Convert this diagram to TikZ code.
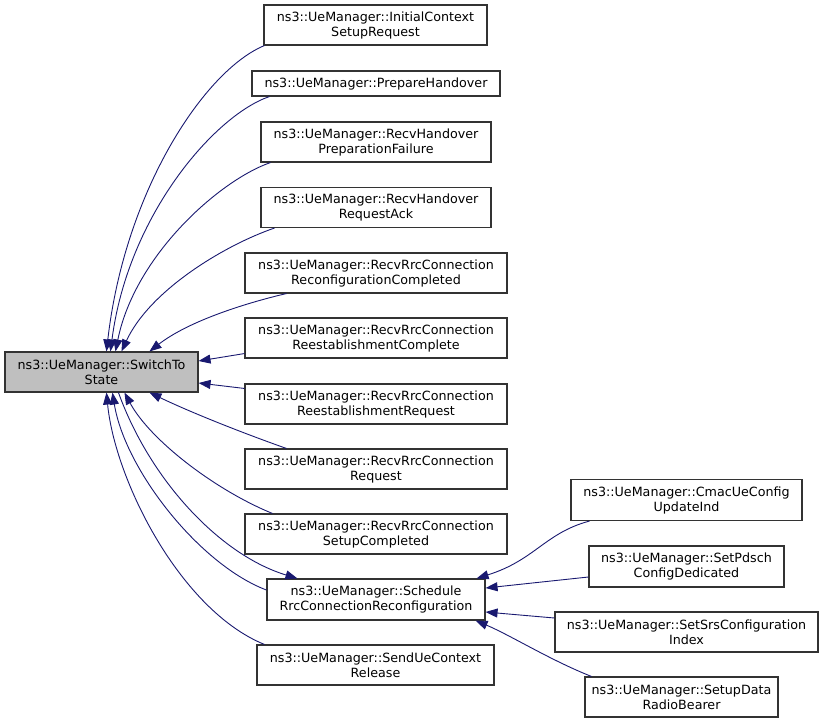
\documentclass[tikz,border=0pt]{standalone}
\usepackage{fontspec}
\setmainfont{DejaVu Sans}
\usetikzlibrary{arrows.meta}
\definecolor{edgeblue}{HTML}{191970}
\definecolor{rootgray}{HTML}{BFBFBF}
\tikzset{
  box/.style={draw=black!80, fill=white, line width=1.1pt, align=center, inner sep=0pt,
    font=\fontsize{12.7}{15}\selectfont},
  rootbox/.style={box, fill=rootgray},
  edge/.style={draw=edgeblue, line width=0.9pt, -{Triangle[length=12pt,width=9pt]}, fill=none}
}
\begin{document}
\begin{tikzpicture}[x=1pt,y=-1pt]
\useasboundingbox (0,0) rectangle (824,723);
% nodes
\node[rootbox, minimum width=193pt, minimum height=40pt] (sw) at (101.5,372) {ns3::UeManager::SwitchTo\\State};
\node[box, minimum width=223pt, minimum height=40pt] (init) at (375.5,25) {ns3::UeManager::InitialContext\\SetupRequest};
\node[box, minimum width=248pt, minimum height=25pt] (prep) at (376,83.5) {ns3::UeManager::PrepareHandover};
\node[box, minimum width=230pt, minimum height=40pt] (fail) at (376,142) {ns3::UeManager::RecvHandover\\PreparationFailure};
\node[box, minimum width=230pt, minimum height=40pt] (ack) at (376,207.5) {ns3::UeManager::RecvHandover\\RequestAck};
\node[box, minimum width=262pt, minimum height=40pt] (reconf) at (376,273) {ns3::UeManager::RecvRrcConnection\\ReconfigurationCompleted};
\node[box, minimum width=262pt, minimum height=40pt] (reestC) at (376,338) {ns3::UeManager::RecvRrcConnection\\ReestablishmentComplete};
\node[box, minimum width=262pt, minimum height=40pt] (reestR) at (376,404) {ns3::UeManager::RecvRrcConnection\\ReestablishmentRequest};
\node[box, minimum width=262pt, minimum height=40pt] (req) at (376,469) {ns3::UeManager::RecvRrcConnection\\Request};
\node[box, minimum width=262pt, minimum height=40pt] (setup) at (376,534) {ns3::UeManager::RecvRrcConnection\\SetupCompleted};
\node[box, minimum width=218pt, minimum height=41pt] (sched) at (376,599.5) {ns3::UeManager::Schedule\\RrcConnectionReconfiguration};
\node[box, minimum width=237pt, minimum height=40pt] (send) at (375.5,665) {ns3::UeManager::SendUeContext\\Release};
\node[box, minimum width=231pt, minimum height=41pt] (cmac) at (686.5,500) {ns3::UeManager::CmacUeConfig\\UpdateInd};
\node[box, minimum width=195pt, minimum height=41pt] (pdsch) at (686.5,566.5) {ns3::UeManager::SetPdsch\\ConfigDedicated};
\node[box, minimum width=263pt, minimum height=40pt] (srs) at (686.5,632) {ns3::UeManager::SetSrsConfiguration\\Index};
\node[box, minimum width=193pt, minimum height=40pt] (data) at (681.5,697) {ns3::UeManager::SetupData\\RadioBearer};
% edges to SwitchTo (top)
\draw[edge] ([xshift=1pt]init.south west) .. controls (205,70) and (125,190) .. ([xshift=102pt]sw.north west);
\draw[edge] ([xshift=18pt]prep.south west) .. controls (215,115) and (128,215) .. ([xshift=106pt]sw.north west);
\draw[edge] ([xshift=10pt]fail.south west) .. controls (220,180) and (135,255) .. ([xshift=111pt]sw.north west);
\draw[edge] ([xshift=14pt]ack.south west) .. controls (225,245) and (150,290) .. ([xshift=117pt]sw.north west);
\draw[edge] ([xshift=42pt]reconf.south west) .. controls (250,302) and (190,320) .. ([xshift=145pt]sw.north west);
% edges to SwitchTo (side)
\draw[edge] ([yshift=5pt]reestC.south west) -- ([yshift=11pt]sw.east);
\draw[edge] ([yshift=-5pt]reestR.north west) -- ([yshift=-11pt]sw.east);
% edges to SwitchTo (bottom)
\draw[edge] ([xshift=42pt]req.north west) .. controls (240,432) and (190,412) .. ([xshift=145pt]sw.south west);
\draw[edge] ([xshift=28pt]setup.north west) .. controls (215,490) and (150,440) .. ([xshift=120pt]sw.south west);
\draw[edge] ([yshift=9.5pt]sched.west) .. controls (200,565) and (125,470) .. ([xshift=108pt]sw.south west);
\draw[edge] ([xshift=8pt]send.north west) .. controls (180,610) and (115,480) .. ([xshift=102pt]sw.south west);
% SwitchTo -> Schedule
\draw[edge] ([xshift=114pt]sw.south west) .. controls (150,480) and (220,555) .. ([xshift=31pt]sched.north west);
% edges to Schedule
\draw[edge] ([xshift=19pt]cmac.south west) .. controls (545,533) and (535,560) .. ([xshift=-9pt]sched.north east);
\draw[edge] ([yshift=-10.5pt]pdsch.west) -- ([yshift=11.5pt]sched.east);
\draw[edge] ([yshift=14pt]srs.west) -- ([yshift=-12.5pt]sched.east);
\draw[edge] ([xshift=7pt]data.north west) .. controls (550,660) and (510,635) .. ([xshift=-10pt]sched.south east);
\end{tikzpicture}
\end{document}
